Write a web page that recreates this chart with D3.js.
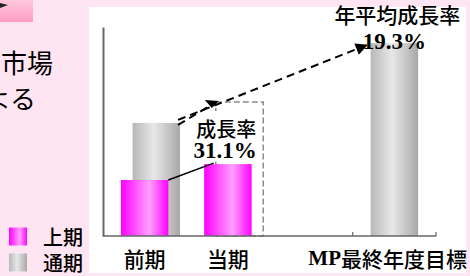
<!DOCTYPE html>
<html>
<head>
<meta charset="utf-8">
<script src="https://cdn.jsdelivr.net/npm/d3@7"></script>
<style>
  body { margin: 0; background: #ffe4f1; }
  svg { display: block; }
</style>
</head>
<body>
<svg id="chart" width="470" height="276"></svg>
<script>
// chart data
var categories = ["前期", "当期", "", "MP最終年度目標"];
var firstHalf = [26.8, 34.4, null, null];   // 上期
var fullYear = [54.1, 64.1, null, 92.3];    // 通期
var isEstimate = [false, true, false, false]; // 当期 通期 is only an outline
var seriesNames = ["上期", "通期"];
var growthLabel = ["成長率", "31.1%"];
var cagrLabel = ["年平均成長率", "19.3%"];
var sideText = ["市場", "による"];

var cjk = "'Noto Sans CJK JP', sans-serif";
var serif = "'Liberation Serif', 'Times New Roman', serif";

var svg = d3.select("#chart");
var defs = svg.append("defs");

// cylinder-like gradients
function addGradient(id, stops) {
  var g = defs.append("linearGradient").attr("id", id);
  g.selectAll("stop").data(stops).enter().append("stop")
    .attr("offset", function (d) { return d[0]; })
    .attr("stop-color", function (d) { return d[1]; });
}
addGradient("grad-mag", [[0, "#ff00ff"], [0.6, "#ffa0ff"], [1, "#ff00ff"]]);
addGradient("grad-gray", [[0, "#b8b8b8"], [0.45, "#e8e8e8"], [1, "#a8a8a8"]]);
var tab = defs.append("linearGradient").attr("id", "grad-tab")
  .attr("x1", 0).attr("y1", 0).attr("x2", 0).attr("y2", 1);
tab.append("stop").attr("offset", 0).attr("stop-color", "#ffc8dc");
tab.append("stop").attr("offset", 1).attr("stop-color", "#ff9cc0");

defs.append("marker").attr("id", "head")
  .attr("viewBox", "0 0 10 10").attr("refX", 9).attr("refY", 5)
  .attr("markerWidth", 6.5).attr("markerHeight", 6)
  .attr("markerUnits", "strokeWidth").attr("orient", "auto")
  .append("path").attr("d", "M0,0L10,5L0,10Z").attr("fill", "#000");

// page pieces outside the plot
svg.append("rect").attr("x", 0).attr("y", 0).attr("width", 33).attr("height", 22)
  .attr("fill", "url(#grad-tab)");
svg.append("path").attr("d", "M0,3L8,5L0,8Z").attr("fill", "#222");

svg.selectAll(".side").data(sideText).enter().append("text")
  .attr("x", function (d, i) { return i == 0 ? 53 : 36; })
  .attr("y", function (d, i) { return 61 + i * 36; })
  .attr("text-anchor", "end").attr("dominant-baseline", "central")
  .style("font-family", cjk).style("font-size", "26px").text(function (d) { return d; });

// white plot panel
svg.append("rect").attr("x", 89).attr("y", 7).attr("width", 377).attr("height", 266)
  .attr("fill", "#fff");

// scales
var x = d3.scaleBand().domain(categories).range([103, 436]).padding(0);
var y = d3.scaleLinear().domain([0, 100]).range([236, 27]);
var bw = x.bandwidth();
var barW = bw * 0.57;

function barX(i, s) {
  // 通期 sits behind and right of 上期; alone it takes the first slot
  if (s == 1 && firstHalf[i] != null) return x(categories[i]) + bw * 0.355;
  return x(categories[i]) + bw * 0.215;
}

// axes
svg.append("g").attr("transform", "translate(103,0)")
  .call(d3.axisLeft(y).ticks(0).tickSize(0))
  .call(function (g) {
    g.selectAll("text").remove();
    g.select(".domain").attr("stroke", "#666").attr("stroke-width", 2);
  });

var bars = svg.append("g");

// 通期 bars
fullYear.forEach(function (v, i) {
  if (v == null) return;
  var r = bars.append("rect")
    .attr("x", barX(i, 1)).attr("y", y(v))
    .attr("width", barW).attr("height", y(0) - y(v));
  if (isEstimate[i]) {
    r.attr("fill", "none").attr("stroke", "#8c8c8c")
      .attr("stroke-width", 1.5).attr("stroke-dasharray", "6,3");
  } else {
    r.attr("fill", "url(#grad-gray)");
  }
});

// 上期 bars
firstHalf.forEach(function (v, i) {
  if (v == null) return;
  bars.append("rect")
    .attr("x", barX(i, 0)).attr("y", y(v))
    .attr("width", barW).attr("height", y(0) - y(v))
    .attr("fill", "url(#grad-mag)");
});

var xAxis = svg.append("g").attr("transform", "translate(0,236)");
xAxis.append("line").attr("x1", 103).attr("x2", 436)
  .attr("stroke", "#666").attr("stroke-width", 1.5);
[x(categories[3]), x(categories[3]) + bw].forEach(function (t) {
  xAxis.append("line").attr("x1", t).attr("x2", t).attr("y1", 0).attr("y2", -4)
    .attr("stroke", "#666").attr("stroke-width", 1.2);
});

// category labels
categories.forEach(function (c, i) {
  if (!c) return;
  var t = svg.append("text").attr("y", 258).attr("dominant-baseline", "central")
    .attr("text-anchor", "middle").style("font-family", cjk)
    .style("font-size", "21px").style("font-weight", 500);
  if (c.indexOf("MP") == 0) {
    t.append("tspan").style("font-family", serif).style("font-weight", "bold").text("MP");
    t.append("tspan").text(c.slice(2));
  } else {
    t.text(c);
  }
  var w = t.node().getComputedTextLength();
  var cx = x(c) + bw / 2;
  t.attr("x", Math.min(cx, 467 - w / 2));
});

// growth annotation between 前期 and 当期
var ann = svg.append("g");
var p0 = [barX(0, 0) + barW, y(firstHalf[0])];
var p1 = [barX(1, 0) + barW * 0.2, y(firstHalf[1]) - 1];
ann.append("line").attr("x1", p0[0]).attr("y1", p0[1]).attr("x2", p1[0]).attr("y2", p1[1])
  .attr("stroke", "#000").attr("stroke-width", 1.5);

var boxX = barX(1, 0) - 11, boxY = y(fullYear[1]) + 9;
ann.append("rect").attr("x", boxX).attr("y", boxY).attr("width", 64).attr("height", 50)
  .attr("fill", "#fff");
ann.append("text").attr("x", boxX + 33).attr("y", boxY + 17)
  .attr("text-anchor", "middle").attr("dominant-baseline", "central")
  .style("font-family", cjk).style("font-size", "20px").style("font-weight", 500)
  .text(growthLabel[0]);
ann.append("text").attr("x", boxX + 32).attr("y", boxY + 47)
  .attr("text-anchor", "middle")
  .style("font-family", serif).style("font-weight", "bold").style("font-size", "23px")
  .text(growthLabel[1]);

// dashed arrows from 前期 通期
var s = [barX(0, 1) + barW - 2, y(fullYear[0])];
var shortEnd = [barX(1, 1) - 3, y(fullYear[1]) + 2];
ann.append("line").attr("x1", s[0]).attr("y1", s[1] + 2)
  .attr("x2", shortEnd[0]).attr("y2", shortEnd[1])
  .attr("stroke", "#000").attr("stroke-width", 2).attr("stroke-dasharray", "8,5");
ann.append("path")
  .attr("d", "M" + (shortEnd[0] - 8) + "," + (shortEnd[1] - 4) +
             "L" + (shortEnd[0] + 6) + "," + (shortEnd[1] - 3) +
             "L" + (shortEnd[0] - 1) + "," + (shortEnd[1] + 4) + "Z")
  .attr("fill", "#000");

var longEnd = [barX(3, 1) - 4, y(fullYear[3]) + 2];
ann.append("line").attr("x1", s[0]).attr("y1", s[1] - 3)
  .attr("x2", longEnd[0]).attr("y2", longEnd[1])
  .attr("stroke", "#000").attr("stroke-width", 2).attr("stroke-dasharray", "8,5")
  .attr("marker-end", "url(#head)");

// CAGR label over the MP bar
var mx = barX(3, 1) + barW / 2;
svg.append("text").attr("x", mx + 3).attr("y", 13.5)
  .attr("text-anchor", "middle").attr("dominant-baseline", "central")
  .style("font-family", cjk).style("font-size", "21px").style("font-weight", 500)
  .text(cagrLabel[0]);
svg.append("text").attr("x", mx).attr("y", 49)
  .attr("text-anchor", "middle")
  .style("font-family", serif).style("font-weight", "bold").style("font-size", "23px")
  .text(cagrLabel[1]);

// legend
var legend = svg.selectAll(".leg").data(seriesNames).enter().append("g")
  .attr("transform", function (d, i) { return "translate(9," + (236.5 + i * 26) + ")"; });
legend.append("rect").attr("x", 0).attr("y", -9).attr("width", 18).attr("height", 18)
  .attr("fill", function (d, i) { return i == 0 ? "url(#grad-mag)" : "url(#grad-gray)"; });
legend.append("text").attr("x", 34).attr("y", 0).attr("dominant-baseline", "central")
  .style("font-family", cjk).style("font-size", "20px").style("font-weight", 500)
  .text(function (d) { return d; });
</script>
</body>
</html>
